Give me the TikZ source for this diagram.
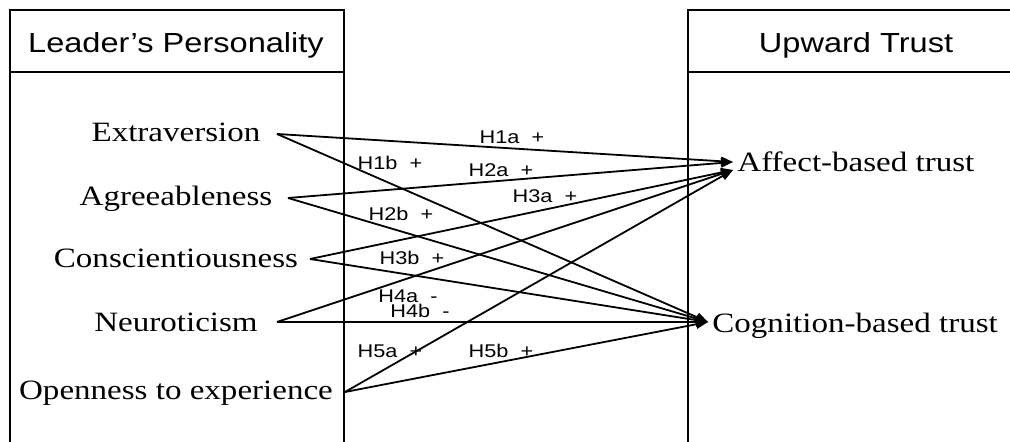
\documentclass[tikz,border=0pt]{standalone}
\usepackage{fontspec}
\setmainfont{Liberation Serif}[FakeStretch=1.18]
\newfontfamily\headfont{Liberation Sans}[FakeStretch=1.18]
\usetikzlibrary{arrows.meta}

\tikzset{
  frame/.style={line width=1pt},
  head/.style={font=\headfont\fontsize{13.8}{16}\selectfont, anchor=base, inner sep=0pt},
  factor/.style={font=\fontsize{14}{17}\selectfont, anchor=base, inner sep=0pt},
  outcome/.style={font=\fontsize{14}{17}\selectfont, anchor=base west, inner sep=0pt},
  hyp/.style={font=\headfont\fontsize{9.2}{11}\selectfont, inner sep=0pt},
  link/.style={line width=0.9pt, -{Triangle[length=6pt,width=4.5pt]}}
}

\begin{document}
\begin{tikzpicture}[x=0.5pt, y=-0.5pt]
  \useasboundingbox (0,0) rectangle (1010,442);

  % two open-bottom panels with header rows
  \draw[frame] (10,442) -- (10,10) -- (344,10) -- (344,442);
  \draw[frame] (10,72) -- (344,72);
  \draw[frame] (1010,10) -- (688,10) -- (688,442);
  \draw[frame] (688,72) -- (1010,72);

  \node[head] (lp) at (176,53) {Leader’s Personality};
  \node[head] (ut) at (856,53) {Upward Trust};

  % personality factors
  \node[factor] (ext) at (176,142) {Extraversion};
  \node[factor] (agr) at (176,206) {Agreeableness};
  \node[factor] (con) at (176,268) {Conscientiousness};
  \node[factor] (neu) at (176,332) {Neuroticism};
  \node[factor] (ope) at (176,400) {Openness to experience};

  % trust outcomes
  \node[outcome] (aff) at (737,172) {Affect-based trust};
  \node[outcome] (cog) at (712,333) {Cognition-based trust};

  % connector ends
  \coordinate (ext-o) at (277,134);
  \coordinate (agr-o) at (288,198);
  \coordinate (con-o) at (310,259);
  \coordinate (neu-o) at (277,322);
  \coordinate (ope-o) at (345,392);
  \coordinate (aff-i1) at (733,162);
  \coordinate (aff-i2) at (733,170);
  \coordinate (cog-i) at (708,322);

  % hypothesised paths
  \draw[link] (ext-o) -- (aff-i1);
  \draw[link] (ext-o) -- (cog-i);
  \draw[link] (agr-o) -- (aff-i1);
  \draw[link] (agr-o) -- (cog-i);
  \draw[link] (con-o) -- (aff-i2);
  \draw[link] (con-o) -- (cog-i);
  \draw[link] (neu-o) -- (aff-i2);
  \draw[link] (neu-o) -- (cog-i);
  \draw[link] (ope-o) -- (aff-i2);
  \draw[link] (ope-o) -- (cog-i);

  % hypothesis labels
  \node[hyp] (h1a) at (512,137) {H1a\ \ +};
  \node[hyp] (h1b) at (390,163) {H1b\ \ +};
  \node[hyp] (h2a) at (501,170) {H2a\ \ +};
  \node[hyp] (h3a) at (545,196) {H3a\ \ +};
  \node[hyp] (h2b) at (401,214) {H2b\ \ +};
  \node[hyp] (h3b) at (412,258) {H3b\ \ +};
  \node[hyp] (h4a) at (408,296) {H4a\ \ -};
  \node[hyp] (h4b) at (420,311) {H4b\ \ -};
  \node[hyp] (h5a) at (390,351) {H5a\ \ +};
  \node[hyp] (h5b) at (501,351) {H5b\ \ +};
\end{tikzpicture}
\end{document}
